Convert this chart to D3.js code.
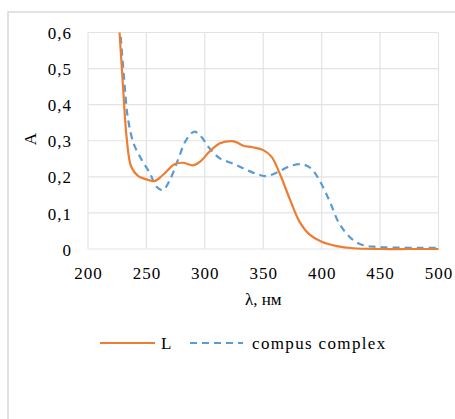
<!DOCTYPE html>
<html>
<head>
<meta charset="utf-8">
<script src="https://cdn.jsdelivr.net/npm/d3@7"></script>
<style>
  html, body { margin: 0; padding: 0; background: #fff; }
  svg { display: block; }
  svg text { font-family: "Liberation Serif", "Times New Roman", Tinos, "DejaVu Serif", serif !important; fill: #000; }
</style>
</head>
<body>
<svg id="chart" width="455" height="419"></svg>
<script>
// ---- data ----
const xTicks = [200, 250, 300, 350, 400, 450, 500];
const yTicks = [0, 0.1, 0.2, 0.3, 0.4, 0.5, 0.6];
const yTickLabels = ["0", "0,1", "0,2", "0,3", "0,4", "0,5", "0,6"];
const seriesNames = ["L", "compus complex"];

const lWavelength = [227, 230, 233, 237, 243, 250, 257, 264, 274, 281, 290, 296, 304, 313, 323, 327, 333, 341, 350, 357, 364, 373, 381, 390, 400, 413, 427, 450, 475, 500];
const lAbsorbance = [0.6, 0.45, 0.311, 0.228, 0.202, 0.193, 0.188, 0.205, 0.235, 0.239, 0.232, 0.242, 0.27, 0.293, 0.299, 0.296, 0.286, 0.282, 0.274, 0.256, 0.21, 0.136, 0.076, 0.039, 0.02, 0.008, 0.002, 0.0, 0.0, 0.0];

const cWavelength = [228, 231, 234, 239, 246, 253, 258.5, 264, 270, 277, 284, 291, 297, 304, 313, 324, 336, 347, 353, 363, 373, 383, 391, 398, 407, 415, 425, 435, 447, 461, 484, 500];
const cAbsorbance = [0.588, 0.468, 0.366, 0.293, 0.247, 0.21, 0.173, 0.163, 0.191, 0.247, 0.302, 0.325, 0.311, 0.279, 0.251, 0.237, 0.219, 0.205, 0.202, 0.214, 0.23, 0.235, 0.223, 0.191, 0.131, 0.071, 0.03, 0.011, 0.006, 0.004, 0.003, 0.003];

const colors = ["#ED7D31", "#5B9BD5"];
const FONT = '"Liberation Serif", "Times New Roman", Tinos, "DejaVu Serif", serif';

// ---- layout ----
const svg = d3.select("#chart");
const plot = { left: 88, right: 438.5, top: 32.5, bottom: 249 };

// outer chart border (extends beyond viewport on right/bottom)
svg.append("rect")
  .attr("x", 8).attr("y", 12)
  .attr("width", 480).attr("height", 440)
  .attr("fill", "#fff")
  .attr("stroke", "#d9d9d9").attr("stroke-width", 1.5);

const x = d3.scaleLinear().domain([200, 500]).range([plot.left, plot.right]);
const y = d3.scaleLinear().domain([0, 0.6]).range([plot.bottom, plot.top]);

// gridlines
const grid = svg.append("g");
grid.selectAll("line.h").data(yTicks).join("line")
  .attr("x1", plot.left).attr("x2", plot.right)
  .attr("y1", d => y(d)).attr("y2", d => y(d))
  .attr("stroke", "#e3e3e3").attr("stroke-width", 1.2);
grid.selectAll("line.v").data(xTicks).join("line")
  .attr("x1", d => x(d)).attr("x2", d => x(d))
  .attr("y1", plot.top).attr("y2", plot.bottom)
  .attr("stroke", "#e3e3e3").attr("stroke-width", 1.2);

// axes via d3 axis generators (domain/ticks hidden, labels only)
const xAxis = d3.axisBottom(x).tickValues(xTicks).tickSize(0).tickPadding(0).tickFormat(d3.format("d"));
const gx = svg.append("g").attr("transform", `translate(0,${plot.bottom + 18})`).call(xAxis)
  .attr("font-family", FONT);
gx.select(".domain").remove();
gx.selectAll("text").attr("font-size", 17).attr("letter-spacing", 1).attr("dy", "0.71em");

const yAxis = d3.axisLeft(y).tickValues(yTicks).tickSize(0).tickPadding(0)
  .tickFormat((d, i) => yTickLabels[i]);
const gy = svg.append("g").attr("transform", `translate(72,0)`).call(yAxis)
  .attr("font-family", FONT);
gy.select(".domain").remove();
gy.selectAll("text").attr("font-size", 17).attr("letter-spacing", 1).attr("dy", "0.36em");

// axis titles
svg.append("text")
  .attr("x", (plot.left + plot.right) / 2).attr("y", 305)
  .attr("text-anchor", "middle").attr("font-size", 17)
  .text("λ, нм");
svg.append("text")
  .attr("transform", "translate(36,139) rotate(-90)")
  .attr("text-anchor", "middle").attr("font-size", 17)
  .text("A");

// lines
const line = d3.line().x(d => x(d[0])).y(d => y(d[1])).curve(d3.curveCatmullRom.alpha(0.5));
const lData = lWavelength.map((w, i) => [w, lAbsorbance[i]]);
const cData = cWavelength.map((w, i) => [w, cAbsorbance[i]]);

svg.append("path").datum(cData)
  .attr("d", line).attr("fill", "none")
  .attr("stroke", colors[1]).attr("stroke-width", 2.2)
  .attr("stroke-dasharray", "7,5");
svg.append("path").datum(lData)
  .attr("d", line).attr("fill", "none")
  .attr("stroke", colors[0]).attr("stroke-width", 2.2);

// legend
const legendY = 343;
const leg = svg.append("g");
leg.append("line").attr("x1", 100).attr("x2", 155).attr("y1", legendY).attr("y2", legendY)
  .attr("stroke", colors[0]).attr("stroke-width", 2.2);
leg.append("text").attr("x", 161).attr("y", legendY).attr("dy", "0.35em")
  .attr("font-size", 17).text(seriesNames[0]);
leg.append("line").attr("x1", 190).attr("x2", 243).attr("y1", legendY).attr("y2", legendY)
  .attr("stroke", colors[1]).attr("stroke-width", 2.2).attr("stroke-dasharray", "7,5");
leg.append("text").attr("x", 252).attr("y", legendY).attr("dy", "0.35em")
  .attr("font-size", 17).attr("letter-spacing", 1.35).text(seriesNames[1]);
</script>
</body>
</html>
